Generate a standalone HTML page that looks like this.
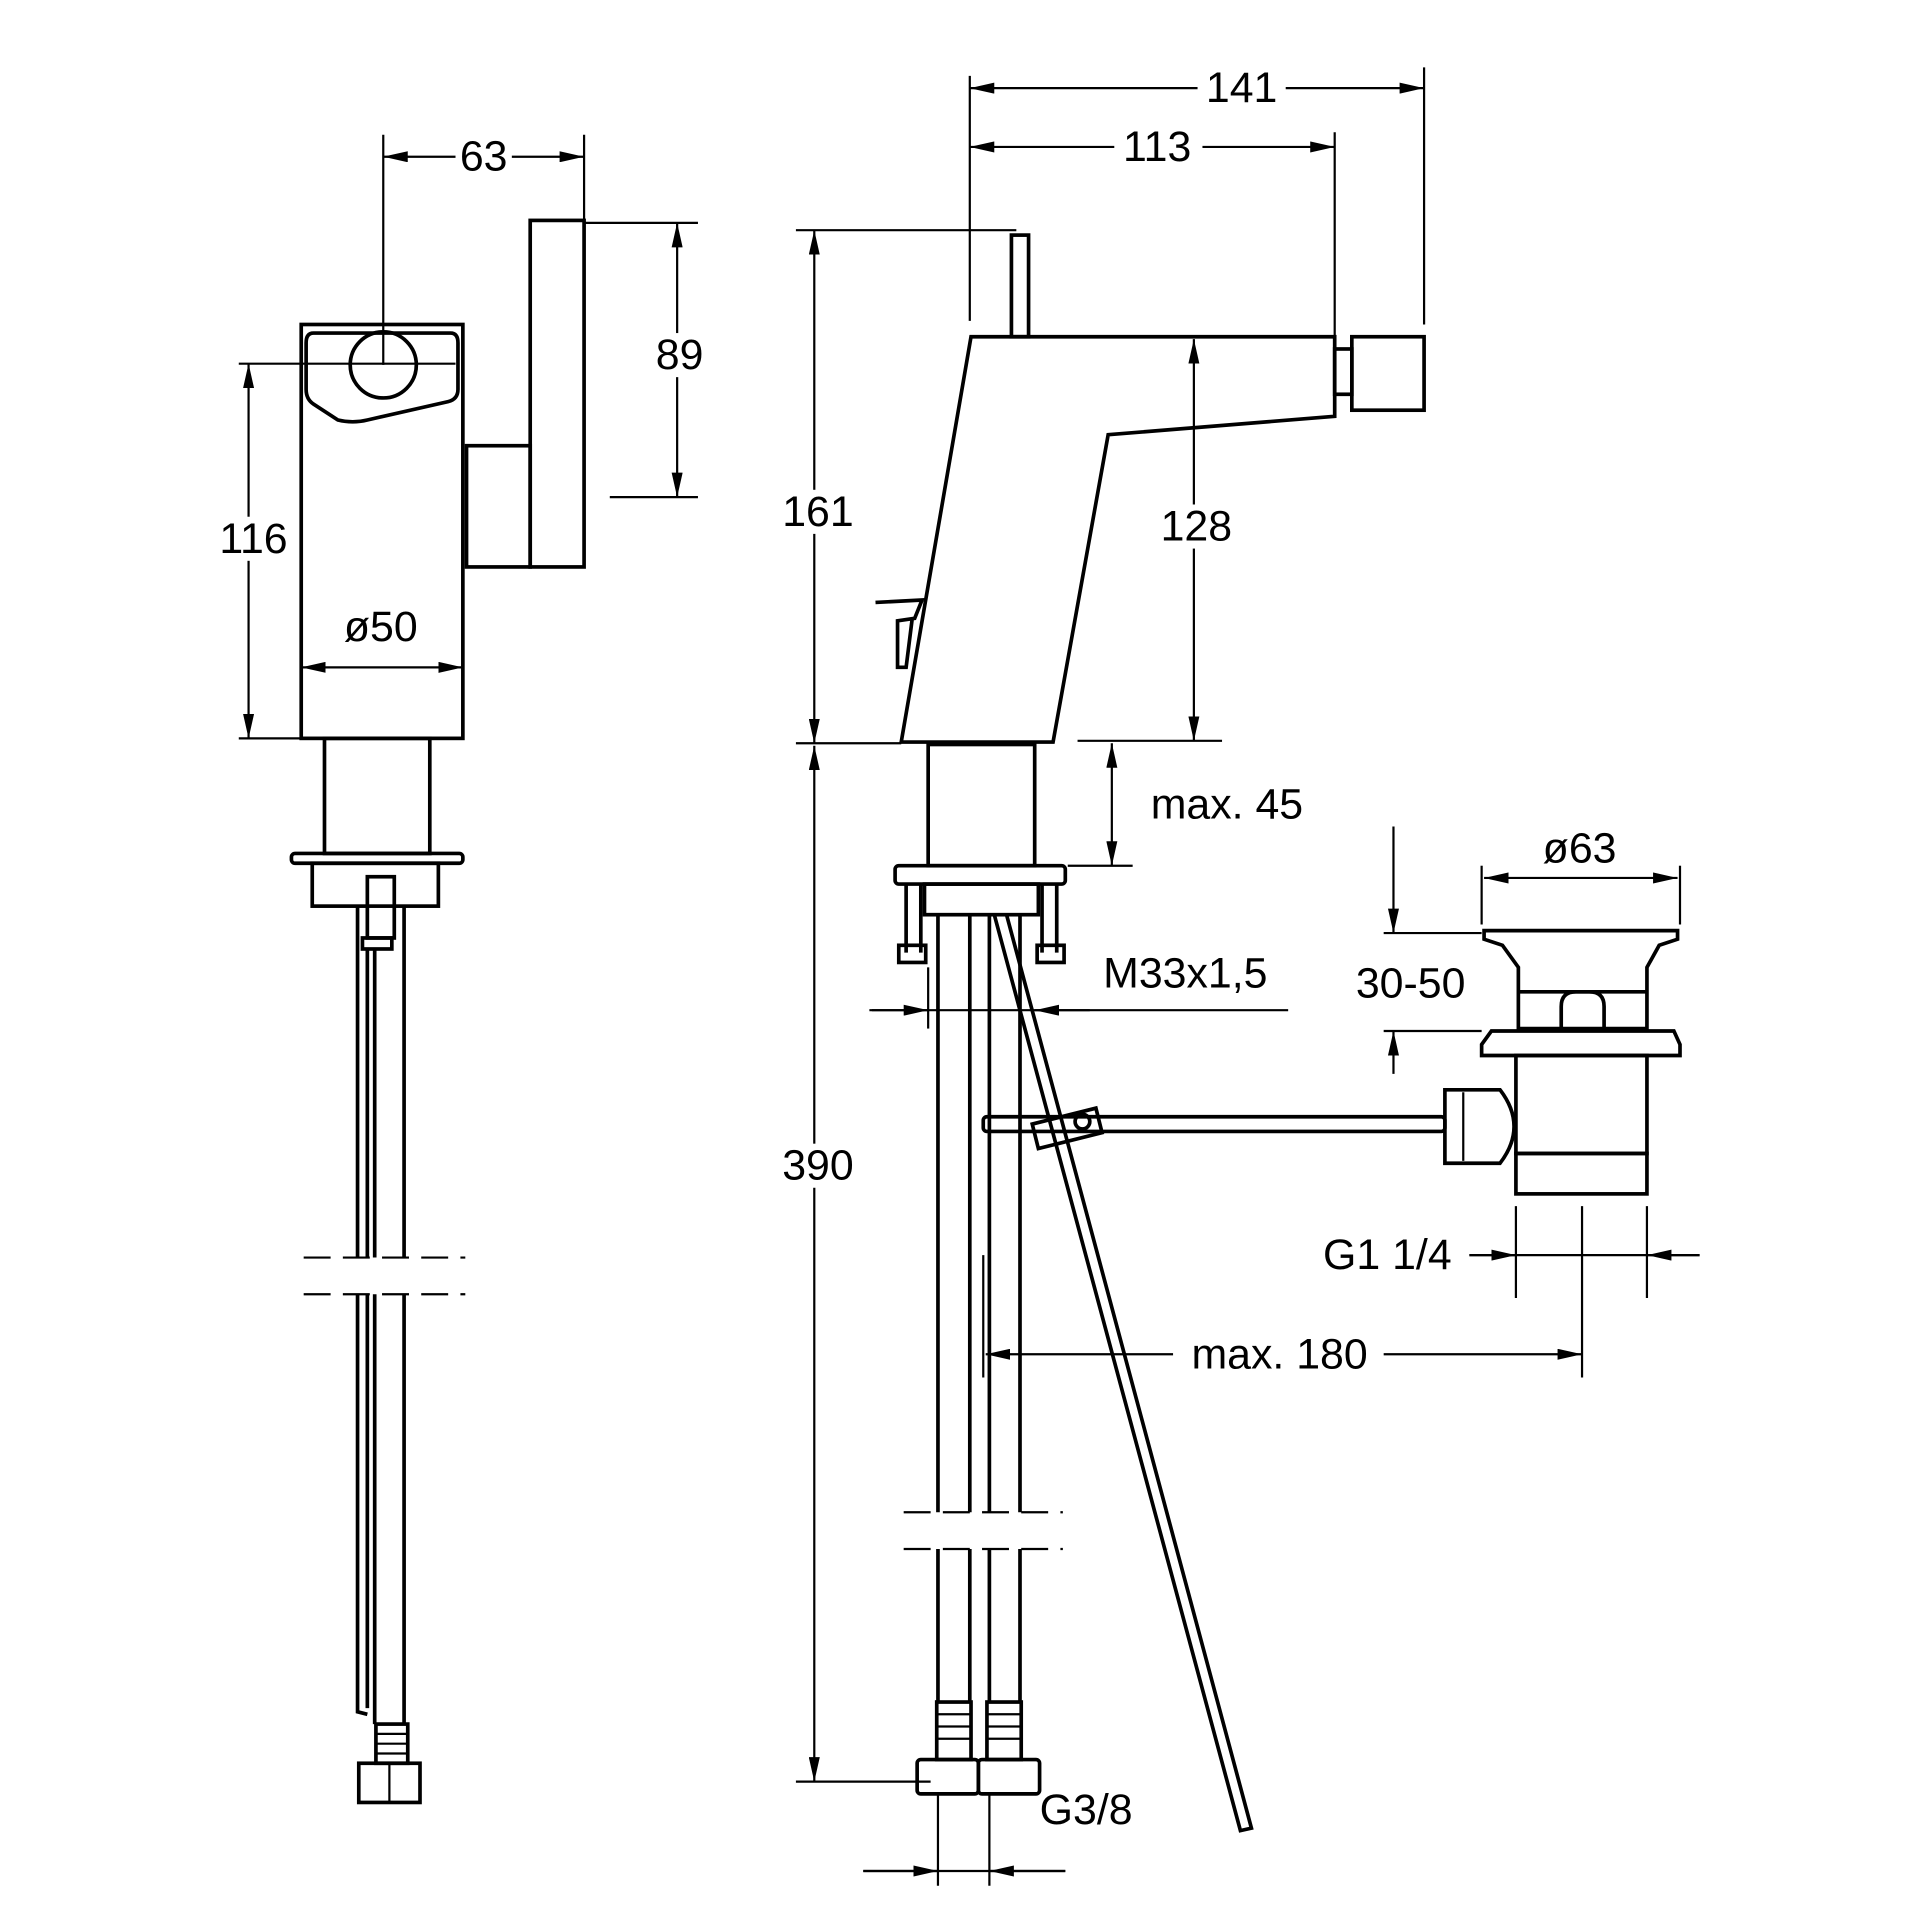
<!DOCTYPE html>
<html><head><meta charset="utf-8"><style>html,body{margin:0;padding:0;background:#fff}svg{display:block}</style></head>
<body>
<svg width="1920" height="1920" viewBox="0 0 1568 1568" xmlns="http://www.w3.org/2000/svg">
<defs>
<marker id="a" viewBox="0 0 10 10" refX="10" refY="5" markerWidth="20" markerHeight="9" markerUnits="userSpaceOnUse" orient="auto-start-reverse" preserveAspectRatio="none"><path d="M0,0 L10,5 L0,10 z" fill="#000"/></marker>
</defs>
<style>
.o{fill:none;stroke:#000;stroke-width:3}
.t{fill:none;stroke:#000;stroke-width:1.8}
.d{fill:none;stroke:#000;stroke-width:1.8;marker-start:url(#a);marker-end:url(#a)}
.e{fill:none;stroke:#000;stroke-width:1.8;marker-end:url(#a)}
text{font-family:"Liberation Sans",sans-serif;font-size:35px;fill:#000;text-anchor:middle;dominant-baseline:central}
</style>
<rect width="1568" height="1568" fill="#fff"/>
<!-- LEFT VIEW -->
<rect class="o" x="246" y="265" width="132" height="338"/>
<path class="o" d="M256,272 H368 Q374,272 374,280 V318 Q374,326 366,328 L300,343 Q288,346 276,343 L256,330 Q250,326 250,318 V280 Q250,272 256,272 Z"/>
<circle class="o" cx="313" cy="298" r="27"/>
<rect class="o" x="433" y="180" width="44" height="283"/>
<rect class="o" x="381" y="364" width="52" height="99"/>
<line class="t" x1="313" y1="110" x2="313" y2="298"/>
<line class="t" x1="477" y1="110" x2="477" y2="180"/>
<line class="d" x1="313" y1="128" x2="477" y2="128"/>
<rect x="372" y="110" width="46" height="36" fill="#fff"/><text x="395" y="128">63</text>
<line class="t" x1="477" y1="182" x2="570" y2="182"/>
<line class="t" x1="498" y1="406" x2="570" y2="406"/>
<line class="d" x1="553" y1="182" x2="553" y2="406"/>
<rect x="530" y="272" width="46" height="36" fill="#fff"/><text x="555" y="290">89</text>
<line class="t" x1="195" y1="297" x2="372" y2="297"/>
<line class="t" x1="195" y1="603" x2="246" y2="603"/>
<line class="d" x1="203" y1="297" x2="203" y2="603"/>
<rect x="176" y="422" width="62" height="36" fill="#fff"/><text x="207" y="440">116</text>
<text x="311" y="512">ø50</text>
<line class="d" x1="246" y1="545" x2="378" y2="545"/>
<rect class="o" x="265" y="603" width="86" height="94"/>
<rect class="o" x="238" y="697" width="140" height="8" rx="3"/>
<rect class="o" x="255" y="705" width="103" height="35"/>
<rect class="o" x="300" y="716" width="22" height="50"/>
<rect class="o" x="296" y="766" width="24" height="9"/>
<path class="o" d="M292,740 V1027 M300,775 V1027 M306,775 V1027 M330,740 V1027"/>
<path class="o" d="M292,1057 V1398 L300,1400 M300,1057 V1395 M306,1057 V1408 M330,1057 V1408"/>
<line class="t" x1="248" y1="1027" x2="380" y2="1027" stroke-dasharray="22,10"/>
<line class="t" x1="248" y1="1057" x2="380" y2="1057" stroke-dasharray="22,10"/>
<rect class="o" x="307" y="1408" width="26" height="32"/>
<path class="t" d="M307,1416 H333 M307,1424 H333 M307,1432 H333"/>
<rect class="o" x="293" y="1440" width="50" height="32"/>
<line class="t" x1="318" y1="1440" x2="318" y2="1472"/>
<!-- RIGHT VIEW -->
<path class="o" d="M793,275 H1090 V340 L905,355 L860,606 H736 Z"/>
<rect class="o" x="1090" y="285" width="14" height="37"/>
<rect class="o" x="1104" y="275" width="59" height="60"/>
<rect class="o" x="826" y="192" width="14" height="83"/>
<path class="o" d="M715,492 L753,490 L747,505 L733,507 L733,545 L740,545 L745,505"/>
<rect class="o" x="758" y="608" width="87" height="99"/>
<rect class="o" x="731" y="707" width="139" height="15" rx="3"/>
<rect class="o" x="755" y="722" width="93" height="25"/>
<path class="o" d="M740,722 V778 M752,722 V778 M851,722 V778 M863,722 V778"/>
<rect class="o" x="734" y="772" width="22" height="14"/>
<rect class="o" x="847" y="772" width="22" height="14"/>
<path class="o" d="M766,747 V1235 M792,747 V1235 M808,747 V1235 M833,747 V1235"/>
<path class="o" d="M766,1265 V1390 M792,1265 V1390 M808,1265 V1390 M833,1265 V1390"/>
<line class="t" x1="738" y1="1235" x2="868" y2="1235" stroke-dasharray="22,10"/>
<line class="t" x1="738" y1="1265" x2="868" y2="1265" stroke-dasharray="22,10"/>
<line class="t" x1="803" y1="1025" x2="803" y2="1125"/>
<rect class="o" x="765" y="1390" width="28" height="47"/>
<rect class="o" x="806" y="1390" width="28" height="47"/>
<path class="t" d="M765,1400 H793 M765,1410 H793 M765,1420 H793 M806,1400 H834 M806,1410 H834 M806,1420 H834"/>
<rect class="o" x="749" y="1437" width="50" height="28" rx="3"/>
<rect class="o" x="799" y="1437" width="50" height="28" rx="3"/>
<path class="o" d="M812,747 L1013,1495 L1022,1493 L822,747"/>
<rect class="o" x="803" y="912" width="377" height="12" rx="3"/>
<path class="o" d="M843,918 L895,905 L900,925 L848,938 Z"/>
<circle class="o" cx="884" cy="916" r="6"/>
<!-- drain -->
<path class="o" d="M1212,760 H1370 L1370,767 L1355,772 L1345,790 L1345,840 H1240 L1240,790 L1227,772 L1212,767 Z"/>
<path class="o" d="M1240,810 H1345"/>
<path class="o" d="M1275,840 V822 Q1275,810 1287,810 H1298 Q1310,810 1310,822 V840"/>
<path class="o" d="M1218,842 H1367 L1372,853 L1372,862 H1210 L1210,853 Z"/>
<rect class="o" x="1238" y="862" width="107" height="80"/>
<rect class="o" x="1238" y="942" width="107" height="33"/>
<path class="o" d="M1180,890 H1225 Q1248,920 1225,950 H1180 Z"/>
<line class="t" x1="1195" y1="892" x2="1195" y2="948"/>
<!-- dims right -->
<line class="t" x1="792" y1="62" x2="792" y2="262"/>
<line class="t" x1="1090" y1="108" x2="1090" y2="275"/>
<line class="t" x1="1163" y1="55" x2="1163" y2="265"/>
<line class="d" x1="792" y1="72" x2="1163" y2="72"/>
<rect x="978" y="54" width="72" height="36" fill="#fff"/><text x="1014" y="72">141</text>
<line class="d" x1="792" y1="120" x2="1090" y2="120"/>
<rect x="910" y="102" width="72" height="36" fill="#fff"/><text x="945" y="120">113</text>
<line class="t" x1="650" y1="188" x2="830" y2="188"/>
<line class="d" x1="665" y1="188" x2="665" y2="607"/>
<rect x="636" y="400" width="64" height="36" fill="#fff"/><text x="668" y="418">161</text>
<line class="d" x1="975" y1="277" x2="975" y2="605"/>
<rect x="942" y="412" width="70" height="36" fill="#fff"/><text x="977" y="430">128</text>
<line class="t" x1="880" y1="605" x2="998" y2="605"/>
<line class="t" x1="650" y1="607" x2="736" y2="607"/>
<line class="d" x1="665" y1="609" x2="665" y2="1455"/>
<rect x="636" y="934" width="64" height="36" fill="#fff"/><text x="668" y="952">390</text>
<line class="t" x1="650" y1="1455" x2="760" y2="1455"/>
<line class="d" x1="908" y1="607" x2="908" y2="707"/>
<line class="t" x1="872" y1="707" x2="925" y2="707"/>
<text x="1002" y="657">max. 45</text>
<line class="t" x1="710" y1="825" x2="1052" y2="825"/>
<line class="e" x1="712" y1="825" x2="758" y2="825"/>
<line class="e" x1="890" y1="825" x2="845" y2="825"/>
<line class="t" x1="758" y1="790" x2="758" y2="840"/>
<text x="968" y="795">M33x1,5</text>
<line class="e" x1="1138" y1="675" x2="1138" y2="762"/>
<line class="e" x1="1138" y1="877" x2="1138" y2="842"/>
<line class="t" x1="1130" y1="762" x2="1210" y2="762"/>
<line class="t" x1="1130" y1="842" x2="1210" y2="842"/>
<text x="1152" y="803">30-50</text>
<line class="t" x1="1210" y1="707" x2="1210" y2="755"/>
<line class="t" x1="1372" y1="707" x2="1372" y2="755"/>
<line class="d" x1="1212" y1="717" x2="1370" y2="717"/>
<text x="1290" y="693">ø63</text>
<line class="t" x1="1238" y1="985" x2="1238" y2="1060"/>
<line class="t" x1="1292" y1="985" x2="1292" y2="1125"/>
<line class="t" x1="1345" y1="985" x2="1345" y2="1060"/>
<line class="t" x1="1200" y1="1025" x2="1388" y2="1025"/>
<line class="e" x1="1200" y1="1025" x2="1238" y2="1025"/>
<line class="e" x1="1388" y1="1025" x2="1345" y2="1025"/>
<text x="1133" y="1025">G1 1/4</text>
<line class="d" x1="805" y1="1106" x2="1292" y2="1106"/>
<rect x="958" y="1088" width="172" height="36" fill="#fff"/><text x="1045" y="1106">max. 180</text>
<line class="t" x1="766" y1="1465" x2="766" y2="1540"/>
<line class="t" x1="808" y1="1465" x2="808" y2="1540"/>
<line class="t" x1="705" y1="1528" x2="870" y2="1528"/>
<line class="e" x1="705" y1="1528" x2="766" y2="1528"/>
<line class="e" x1="870" y1="1528" x2="808" y2="1528"/>
<text x="887" y="1478">G3/8</text>
</svg>
</body></html>
